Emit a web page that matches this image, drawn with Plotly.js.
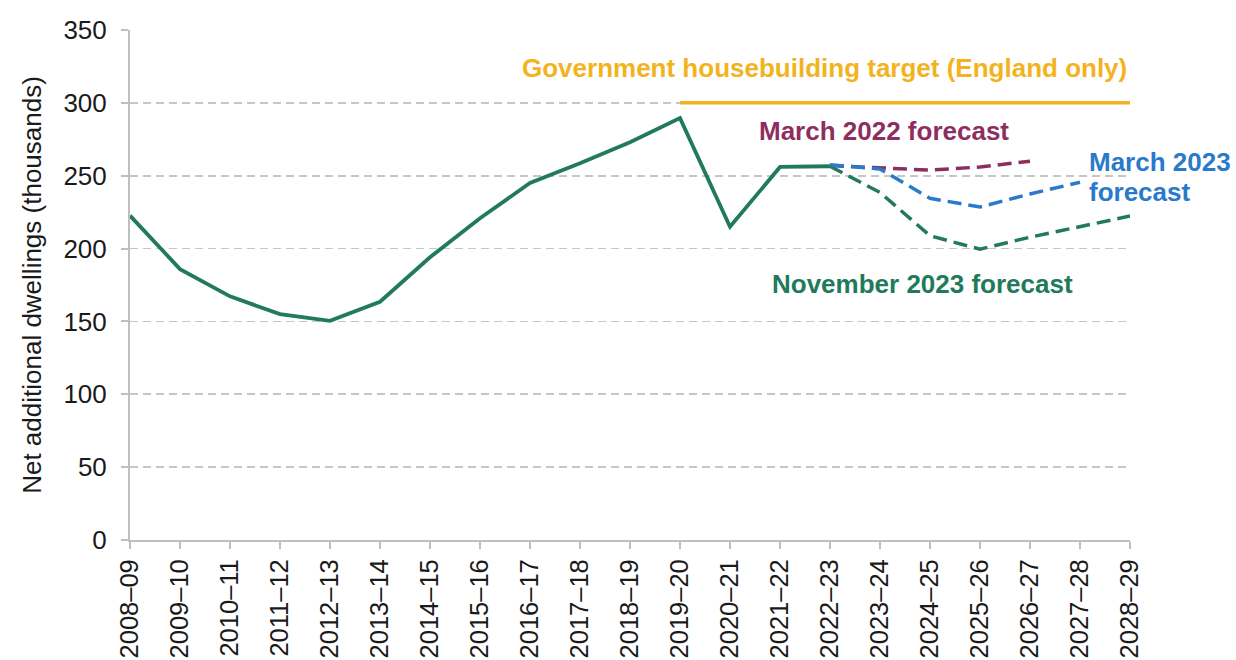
<!DOCTYPE html>
<html>
<head>
<meta charset="utf-8">
<script src="https://cdn.plot.ly/plotly-3.0.1.min.js"></script>
<style>html,body{margin:0;padding:0;background:#fff;}#chart{width:1236px;height:660px;}</style>
</head>
<body>
<div id="chart"></div>
<script>
const years = ["2008–09","2009–10","2010–11","2011–12","2012–13","2013–14","2014–15","2015–16","2016–17","2017–18","2018–19","2019–20","2020–21","2021–22","2022–23","2023–24","2024–25","2025–26","2026–27","2027–28","2028–29"];
const outturnYears = years.slice(0, 15);
const outturn = [222.6, 185.9, 167.2, 155.0, 150.4, 163.5, 194.0, 220.8, 245.0, 258.5, 273.0, 289.5, 215.0, 256.0, 256.5];
const mar22Years = ["2022–23","2023–24","2024–25","2025–26","2026–27"];
const mar22 = [257.0, 255.5, 253.8, 256.0, 260.0];
const mar23Years = ["2022–23","2023–24","2024–25","2025–26","2026–27","2027–28"];
const mar23 = [257.5, 254.6, 234.5, 228.5, 237.5, 245.5];
const nov23Years = ["2022–23","2023–24","2024–25","2025–26","2026–27","2027–28","2028–29"];
const nov23 = [256.5, 238.5, 208.8, 199.6, 207.8, 215.0, 222.3];
const targetYears = ["2019–20","2028–29"];
const target = [300, 300];
const yTicks = [0, 50, 100, 150, 200, 250, 300, 350];

const green = "#217a5a", maroon = "#8e2e5f", blue = "#2a7acb", gold = "#f2b31f";
const fdash = "14px,7px";

const traces = [
  {x: targetYears, y: target, mode: "lines", line: {color: gold, width: 3.5}, hoverinfo: "skip"},
  {x: mar22Years, y: mar22, mode: "lines", line: {color: maroon, width: 3.5, dash: fdash}},
  {x: nov23Years, y: nov23, mode: "lines", line: {color: green, width: 3.5, dash: fdash}},
  {x: mar23Years, y: mar23, mode: "lines", line: {color: blue, width: 3.5, dash: fdash}},
  {x: outturnYears, y: outturn, mode: "lines", line: {color: green, width: 3.8}}
];

function px(x){ return (x-130)/1000; }
function py(y){ return (540-y)/510; }

const annFont = {family: "Liberation Sans, Arial, sans-serif", size: 26};
function ann(x, y, text, color, anchor){
  return {xref: "paper", yref: "paper", x: px(x), y: py(y), text: "<b>" + text + "</b>", showarrow: false,
          font: Object.assign({}, annFont, {color: color}), xanchor: anchor, yanchor: "middle", borderpad: 0};
}
const layout = {
  width: 1236, height: 660,
  margin: {l: 130, r: 106, t: 30, b: 120},
  paper_bgcolor: "#fff", plot_bgcolor: "#fff",
  showlegend: false,
  font: {family: "Liberation Sans, Arial, sans-serif", color: "#1a1a1a"},
  xaxis: {
    type: "category", categoryorder: "array", categoryarray: years,
    range: [0, 20], tickangle: -90,
    tickfont: {size: 25.5, color: "#1a1a1a"},
    showgrid: false, zeroline: false,
    showline: true, linecolor: "#bfbfbf", linewidth: 2,
    ticks: "outside", ticklen: 7, tickcolor: "#bfbfbf", tickwidth: 2
  },
  yaxis: {
    range: [0, 350], tickvals: yTicks, ticktext: yTicks.map(String),
    tickfont: {size: 26, color: "#1a1a1a"},
    showgrid: true, gridcolor: "#c6c6c6", griddash: "8px,5px", gridwidth: 1.6,
    zeroline: false, showline: true, linecolor: "#bfbfbf", linewidth: 2,
    ticks: "outside", ticklen: 7, tickcolor: "#bfbfbf", tickwidth: 2,
    ticklabelstandoff: 9,
    title: {text: "Net additional dwellings (thousands)", font: {size: 26, color: "#1a1a1a"}, standoff: 14}
  },
  annotations: [
    ann(824, 68, "Government housebuilding target (England only)", gold, "center"),
    ann(884, 131, "March 2022 forecast", maroon, "center"),
    ann(1088, 162, "March 2023", blue, "left"),
    ann(1088, 192, "forecast", blue, "left"),
    ann(922, 284, "November 2023 forecast", green, "center")
  ]
};

Plotly.newPlot("chart", traces, layout, {displayModeBar: false, staticPlot: true});
</script>
</body>
</html>
